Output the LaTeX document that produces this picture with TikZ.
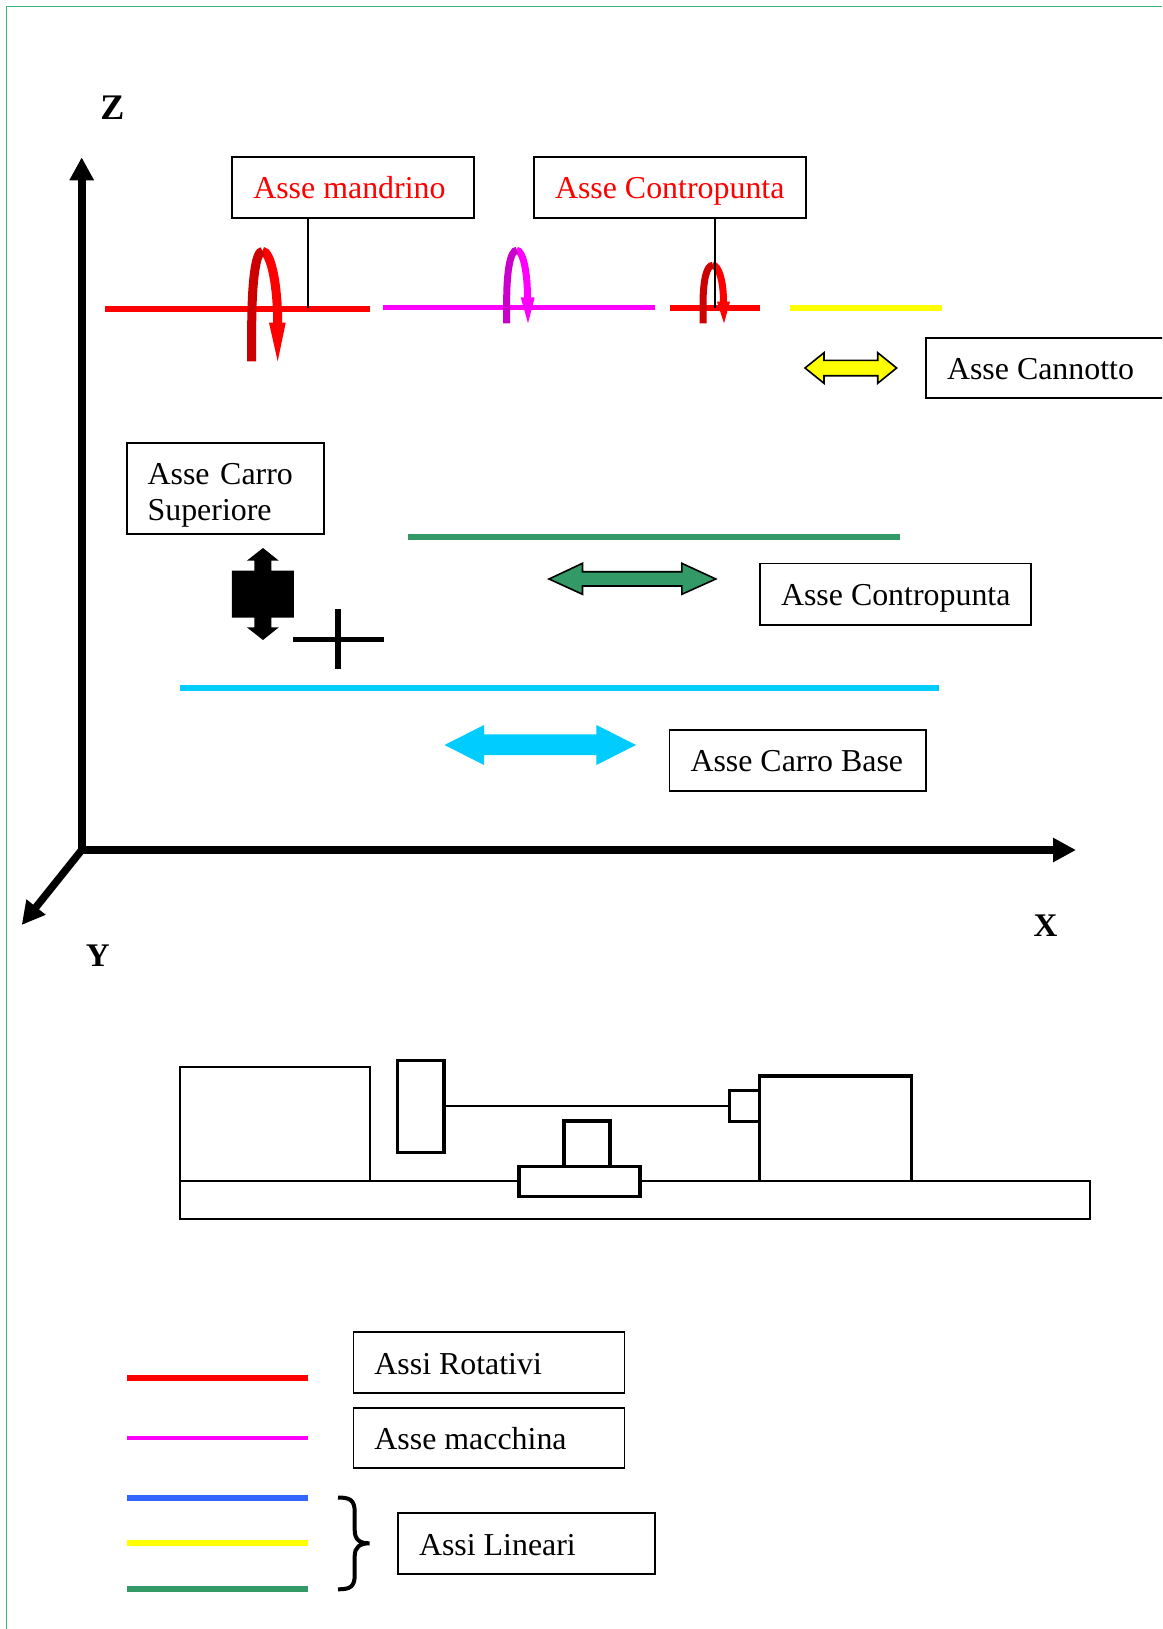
\documentclass[tikz,border=0pt]{standalone}
\usepackage{fontspec}
\setmainfont{Liberation Serif}
\usetikzlibrary{arrows.meta}
\definecolor{framegreen}{HTML}{3CB37A}
\definecolor{axisgreen}{HTML}{339966}
\definecolor{axiscyan}{HTML}{00CCFF}
\definecolor{axisblue}{HTML}{3366FF}
\definecolor{axisyellow}{HTML}{FFFF00}
\definecolor{axisred}{HTML}{FF0000}
\definecolor{axismag}{HTML}{FF00FF}
\definecolor{darkred}{HTML}{CC0000}
\definecolor{darkmag}{HTML}{CC00CC}
\newcommand{\boxtext}[2]{\makebox[\dimexpr#1pt-42pt\relax][l]{#2}}
\tikzset{
  labelbox/.style n args={2}{draw=black, line width=1.8, rectangle, anchor=north west,
    outer sep=0pt, inner ysep=0pt, inner xsep=21pt, minimum width=#1pt,
    minimum height=#2pt, text height=26.5pt, text depth=3.5pt,
    font=\fontsize{31.9}{36}\selectfont},
  twolinebox/.style={draw=black, line width=1.8, rectangle, anchor=north west,
    outer sep=0pt, inner ysep=0pt, inner xsep=21pt, text width=155pt,
    minimum height=91pt, align=left, font=\fontsize{31.9}{36}\selectfont},
  axislabel/.style={anchor=base, inner sep=0pt, font=\fontsize{#1}{40}\selectfont\bfseries},
  axisarrow/.style={draw=black, line width=8, -{Triangle[length=23pt,width=23pt]}},
  thinpart/.style={draw=black, line width=1.7},
  thickpart/.style={draw=black, line width=3.4, fill=white},
  colline/.style={line width=6},
  connector/.style={draw=black, line width=2},
  dblarrow/.style={draw=black, line width=1.6, line join=miter},
}
\begin{document}
\begin{tikzpicture}[x=1pt,y=-1pt]
\useasboundingbox (0,0) rectangle (1162,1629);
\clip (0,0) rectangle (1162,1629);
\fill[white] (0,0) rectangle (1162,1629);
% frame
\draw[framegreen, line width=1.5] (1162,6.5) -- (6.5,6.5) -- (6.5,1629);

% axes
\coordinate (O) at (81.7,850);
\coordinate (Zend) at (81.7,157.3);
\coordinate (Xend) at (1076,850);
\coordinate (Yend) at (21.7,925);
\draw[axisarrow] (O) -- (Zend);
\draw[axisarrow] (O) -- (Xend);
\draw[axisarrow, line width=7.5] (O) -- (Yend);
\node[axislabel=36] (lz) at (112.4,120) {Z};
\node[axislabel=33] (lx) at (1045.6,936.5) {X};
\node[axislabel=33] (ly) at (97.7,966.7) {Y};

% coloured axes, upper row
\draw[axisred, line width=6] (105,309.3) -- (370,309.3);
\draw[axismag, line width=4.6] (383,307.7) -- (654.6,307.7);
\draw[axisred, line width=6] (669.5,307.7) -- (760,307.7);
\draw[axisyellow, line width=6] (790,307.7) -- (942,307.7);

% rotation arrow, spindle
\draw[axisred, line width=9] (262.2,251.2) .. controls (271,251.2) and (277.7,285) .. (277.7,324);
\fill[axisred] (269,322.7) -- (285.7,322.7) -- (277.7,361.3) -- cycle;
\draw[darkred, line width=9] (251.7,361.3) -- (251.7,325) .. controls (252,285) and (255,251.2) .. (262.7,251.2);
% rotation arrow, machine axis
\draw[axismag, line width=7] (516.5,250.2) .. controls (523,250.2) and (527.5,272) .. (527.5,298);
\fill[axismag] (520.7,297.3) -- (534.7,297.3) -- (528,323.3) -- cycle;
\draw[darkmag, line width=7] (506.7,323.3) -- (506.7,297) .. controls (507,272) and (510,250.2) .. (517,250.2);
% rotation arrow, tailstock
\draw[axisred, line width=7] (712.5,265.2) .. controls (719,265.2) and (723.5,282) .. (723.5,302);
\fill[axisred] (717,301.7) -- (730,301.7) -- (724,323.3) -- cycle;
\draw[darkred, line width=7] (703,323.3) -- (703,302) .. controls (703.3,282) and (706,265.2) .. (713,265.2);

% top labels
\node[labelbox={241.7}{61}, text=axisred] (bMand) at (232.3,156.7) {\boxtext{241.7}{Asse mandrino}};
\node[labelbox={272}{61}, text=axisred] (bContR) at (534,156.7) {\boxtext{272}{Asse Contropunta}};
\coordinate (mandAxis) at (308,308);
\coordinate (contAxis) at (715,308);
\draw[connector] (bMand.south -| mandAxis) -- (mandAxis);
\draw[connector] (bContR.south -| contAxis) -- (contAxis);

% yellow double arrow
\draw[dblarrow, fill=axisyellow] (805,368) -- (824,352.7) -- (824,360.3) -- (877.7,360.3) -- (877.7,352.7) -- (896.6,368) -- (877.7,383.3) -- (877.7,375.7) -- (824,375.7) -- (824,383.3) -- cycle;
\node[labelbox={260}{60.3}] (bCann) at (926,337.7) {\boxtext{260}{Asse Cannotto}};

% Carro superiore
\node[twolinebox] (bCarro) at (126.6,443.3) {\rule{0pt}{35pt}\mbox{Asse Carro}\\Superiore};
\fill[black] (263,548) -- (278.8,560.7) -- (271.3,560.7) -- (271.3,570.7) -- (293.9,570.7) -- (293.9,617.7) -- (271.3,617.7) -- (271.3,627.3) -- (278.8,627.3) -- (263,640) -- (246.8,627.3) -- (254.3,627.3) -- (254.3,617.7) -- (231.8,617.7) -- (231.8,570.7) -- (254.3,570.7) -- (254.3,560.7) -- (246.8,560.7) -- cycle;
\draw[black, line width=5.6] (293,639.3) -- (383.6,639.3);
\draw[black, line width=5.8] (338,609.3) -- (338,669.3);

% linear axes
\draw[axisgreen, line width=5.6] (407.7,536.7) -- (900,536.7);
\draw[dblarrow, fill=axisgreen] (549,579) -- (582.5,563.3) -- (582.5,571.7) -- (681.8,571.7) -- (681.8,563.3) -- (715.8,579) -- (681.8,594.3) -- (681.8,586) -- (582.5,586) -- (582.5,594.3) -- cycle;
\node[labelbox={271}{61.2}] (bContB) at (760,563.5) {\boxtext{271}{Asse Contropunta}};
\draw[axiscyan, line width=6] (180.4,688) -- (938.6,688);
\fill[axiscyan] (444.5,745) -- (484,725) -- (484,734.3) -- (596.4,734.3) -- (596.4,725) -- (636,745) -- (596.4,765) -- (596.4,755) -- (484,755) -- (484,765) -- cycle;
\node[labelbox={256.5}{61.2}] (bBase) at (669.5,729.8) {\boxtext{256.5}{Asse Carro Base}};

% machine
\draw[thinpart] (180.2,1180.7) rectangle (1090,1218.7);
\draw[thinpart] (180.2,1066.7) rectangle (370,1180.7);
\draw[thickpart] (397.6,1060.7) rectangle (444,1152.3);
\draw[thinpart] (444,1106.3) -- (729.5,1106.3);
\draw[thickpart] (729.5,1090.7) rectangle (759.5,1121.7);
\draw[thickpart, fill=none] (759.5,1180.7) -- (759.5,1076) -- (911.4,1076) -- (911.4,1180.7);
\draw[thickpart] (564,1121) rectangle (610,1166.7);
\draw[thickpart] (518.9,1166.7) rectangle (640,1196.7);

% legend
\draw[axisred, colline] (127,1377.7) -- (308,1377.7);
\draw[axismag, line width=4] (127,1438) -- (308,1438);
\draw[axisblue, colline] (127,1498.3) -- (308,1498.3);
\draw[axisyellow, colline] (127,1543.3) -- (308,1543.3);
\draw[axisgreen, colline] (127,1588.7) -- (308,1588.7);
\node[labelbox={271}{60.7}] (bRot) at (353.4,1332.3) {\boxtext{271}{Assi Rotativi}};
\node[labelbox={271}{60.3}] (bMac) at (353.4,1408) {\boxtext{271}{Asse macchina}};
\node[labelbox={256.8}{61}] (bLin) at (398,1513) {\boxtext{256.8}{Assi Lineari}};
\draw[black, line width=4, line cap=butt] (338,1497.5) .. controls (350,1497.5) and (354.7,1500) .. (354.7,1512) -- (354.7,1530) .. controls (354.7,1540) and (360,1543.3) .. (369.5,1543.3) .. controls (360,1543.3) and (354.7,1547) .. (354.7,1556) -- (354.7,1575) .. controls (354.7,1587) and (350,1589.3) .. (338,1589.3);
\end{tikzpicture}
\end{document}
